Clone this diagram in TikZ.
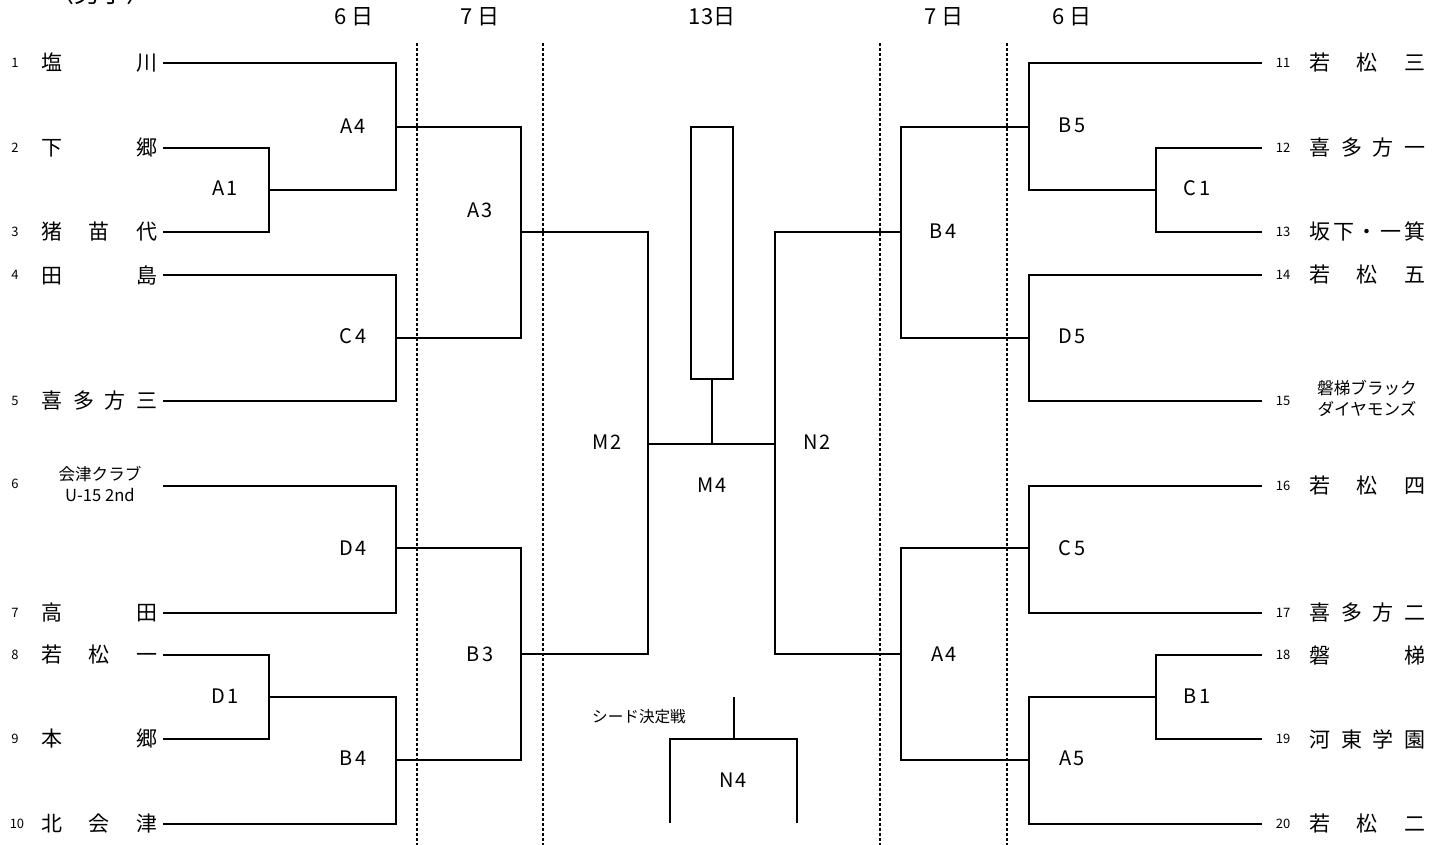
\documentclass[tikz,border=0pt]{standalone}
\usepackage{fontspec}
\setmainfont{Noto Sans CJK JP}
\newfontfamily\labfont[LetterSpace=12]{Noto Sans CJK JP}
\newcommand\tm[1]{\hbox to 58pt{#1}}
\tikzset{
 br/.style={line width=1pt},
 sep/.style={line width=0.6pt, dash pattern=on 1.5pt off 1pt},
 lab/.style={font=\labfont\fontsize{10}{11}\selectfont, inner sep=0},
 num/.style={font=\fontsize{6.5}{8}\selectfont, inner sep=0},
 team/.style={font=\fontsize{10.5}{12}\selectfont, inner sep=0},
 small/.style={font=\fontsize{8.3}{10.5}\selectfont, inner sep=0, align=center},
 seedlab/.style={font=\fontsize{7.8}{10}\selectfont, inner sep=0},
 day/.style={font=\fontsize{11}{12}\selectfont, inner sep=0},
 box/.style={draw, line width=1pt, inner sep=0, minimum width=21pt, minimum height=126.3pt},
}
\begin{document}
\begin{tikzpicture}[x=0.5pt,y=-0.5pt]
\useasboundingbox (0,0) rectangle (1445,845);
\fill[white] (0,0) rectangle (1445,845);
% title (cut off at the top edge, as in the reference)
\node[font=\fontsize{13}{14}\selectfont, inner sep=0] (title) at (100,-7) {〈男子〉};
% days
\node[day] (d1) at (354,17) {6 日};
\node[day] (d2) at (480,17) {7 日};
\node[day] (d3) at (712,17) {13日};
\node[day] (d4) at (944,17) {7 日};
\node[day] (d5) at (1072,17) {6 日};
% separators
\foreach \x/\n in {417/s1,543/s2,880/s3,1007/s4}{
  \coordinate (\n t) at (\x,43); \coordinate (\n b) at (\x,845);
  \draw[sep] (\n t) -- (\n b);
}
% left coordinates
\coordinate (t1) at (163,62.7);
\coordinate (t2) at (163,147.7);
\coordinate (t3) at (163,231.7);
\coordinate (t4) at (163,275);
\coordinate (t5) at (163,401);
\coordinate (t6) at (163,486);
\coordinate (t7) at (163,612.7);
\coordinate (t8) at (163,655);
\coordinate (t9) at (163,739);
\coordinate (t10) at (163,824);
\coordinate (A1j) at (269,190);
\coordinate (A4j) at (396,126.7);
\coordinate (C4j) at (396,338);
\coordinate (D4j) at (396,548.3);
\coordinate (D1j) at (269,697);
\coordinate (B4j) at (396,760);
\coordinate (A3j) at (521,232);
\coordinate (B3j) at (521,654);
\coordinate (M2j) at (648,444);
% right coordinates
\coordinate (r11) at (1262,62.7);
\coordinate (r12) at (1262,147.7);
\coordinate (r13) at (1262,231.7);
\coordinate (r14) at (1262,275);
\coordinate (r15) at (1262,401);
\coordinate (r16) at (1262,486);
\coordinate (r17) at (1262,612.7);
\coordinate (r18) at (1262,655);
\coordinate (r19) at (1262,739);
\coordinate (r20) at (1262,824);
\coordinate (C1j) at (1156,190);
\coordinate (B5j) at (1029,126.7);
\coordinate (D5j) at (1029,338);
\coordinate (C5j) at (1029,548.3);
\coordinate (B1j) at (1156,697);
\coordinate (A5j) at (1029,760);
\coordinate (B4Rj) at (901,232);
\coordinate (A4Rj) at (901,654);
\coordinate (N2j) at (775,444);
\coordinate (M4j) at (711.5,444);
% bracket lines left
\draw[br] (t2) -| (A1j) |- (t3);
\draw[br] (t1) -| (A4j) |- (A1j);
\draw[br] (t4) -| (C4j) |- (t5);
\draw[br] (t6) -| (D4j) |- (t7);
\draw[br] (t8) -| (D1j) |- (t9);
\draw[br] (D1j) -| (B4j) |- (t10);
\draw[br] (A4j) -| (A3j) |- (C4j);
\draw[br] (D4j) -| (B3j) |- (B4j);
\draw[br] (A3j) -| (M2j) |- (B3j);
% bracket lines right
\draw[br] (r12) -| (C1j) |- (r13);
\draw[br] (r11) -| (B5j) |- (C1j);
\draw[br] (r14) -| (D5j) |- (r15);
\draw[br] (r16) -| (C5j) |- (r17);
\draw[br] (r18) -| (B1j) |- (r19);
\draw[br] (B1j) -| (A5j) |- (r20);
\draw[br] (B5j) -| (B4Rj) |- (D5j);
\draw[br] (C5j) -| (A4Rj) |- (A5j);
\draw[br] (B4Rj) -| (N2j) |- (A4Rj);
% final
\draw[br] (M2j) -- (N2j);
\node[box] (win) at (711.5,253) {};
\draw[br] (win.south) -- (M4j);
% seed match
\coordinate (n4t) at (734,697);
\coordinate (n4j) at (734,739);
\coordinate (n4l) at (670,823);
\coordinate (n4r) at (797,823);
\draw[br] (n4t) -- (n4j);
\draw[br] (n4l) |- (n4j) -| (n4r);
\node[seedlab] (seed) at (639,717) {シード決定戦};
% match labels
\node[lab] (lA4) at (353,126) {A4};
\node[lab] (lA1) at (225,188) {A1};
\node[lab] (lC4) at (353,336) {C4};
\node[lab] (lD4) at (353,548) {D4};
\node[lab] (lD1) at (225,696) {D1};
\node[lab] (lB4) at (353,758) {B4};
\node[lab] (lA3) at (480,210) {A3};
\node[lab] (lB3) at (480,654) {B3};
\node[lab] (lM2) at (607,442) {M2};
\node[lab] (lM4) at (712,485) {M4};
\node[lab] (lN2) at (817,442) {N2};
\node[lab] (lB4R) at (943,231) {B4};
\node[lab] (lA4R) at (944,654) {A4};
\node[lab] (lB5) at (1072,125) {B5};
\node[lab] (lC1) at (1197,188) {C1};
\node[lab] (lD5) at (1072,336) {D5};
\node[lab] (lC5) at (1072,548) {C5};
\node[lab] (lB1) at (1197,696) {B1};
\node[lab] (lA5) at (1072,758) {A5};
\node[lab] (lN4) at (733,780) {N4};
% left numbers
\node[num] (k1) at (15,62.7) {1};
\node[num] (k2) at (15,147.7) {2};
\node[num] (k3) at (15,231.7) {3};
\node[num] (k4) at (15,275) {4};
\node[num] (k5) at (15,401) {5};
\node[num] (k6) at (15,484) {6};
\node[num] (k7) at (15,612.7) {7};
\node[num] (k8) at (15,655) {8};
\node[num] (k9) at (15,739) {9};
\node[num] (k10) at (17,824) {10};
% left names
\node[team] (n1) at (99.5,62.7) {\tm{塩\hfill 川}};
\node[team] (n2) at (99.5,147.7) {\tm{下\hfill 郷}};
\node[team] (n3) at (99.5,231.7) {\tm{猪\hfill 苗\hfill 代}};
\node[team] (n4) at (99.5,275) {\tm{田\hfill 島}};
\node[team] (n5) at (99.5,401) {\tm{喜\hfill 多\hfill 方\hfill 三}};
\node[small] (n6) at (100,483.5) {会津クラブ\\U-15 2nd};
\node[team] (n7) at (99.5,612.7) {\tm{高\hfill 田}};
\node[team] (n8) at (99.5,655) {\tm{若\hfill 松\hfill 一}};
\node[team] (n9) at (99.5,739) {\tm{本\hfill 郷}};
\node[team] (n10) at (99.5,824) {\tm{北\hfill 会\hfill 津}};
% right numbers
\node[num] (k11) at (1283,62.7) {11};
\node[num] (k12) at (1283,147.7) {12};
\node[num] (k13) at (1283,231.7) {13};
\node[num] (k14) at (1283,275) {14};
\node[num] (k15) at (1283,401) {15};
\node[num] (k16) at (1283,486) {16};
\node[num] (k17) at (1283,612.7) {17};
\node[num] (k18) at (1283,655) {18};
\node[num] (k19) at (1283,739) {19};
\node[num] (k20) at (1283,824) {20};
% right names
\node[team] (n11) at (1367.5,62.7) {\tm{若\hfill 松\hfill 三}};
\node[team] (n12) at (1367.5,147.7) {\tm{喜\hfill 多\hfill 方\hfill 一}};
\node[team] (n13) at (1367.5,231.7) {\tm{坂\hfill 下\hfill ・\hfill 一\hfill 箕}};
\node[team] (n14) at (1367.5,275) {\tm{若\hfill 松\hfill 五}};
\node[small] (n15) at (1367,398) {磐梯ブラック\\ダイヤモンズ};
\node[team] (n16) at (1367.5,486) {\tm{若\hfill 松\hfill 四}};
\node[team] (n17) at (1367.5,612.7) {\tm{喜\hfill 多\hfill 方\hfill 二}};
\node[team] (n18) at (1367.5,655) {\tm{磐\hfill 梯}};
\node[team] (n19) at (1367.5,739) {\tm{河\hfill 東\hfill 学\hfill 園}};
\node[team] (n20) at (1367.5,824) {\tm{若\hfill 松\hfill 二}};
\end{tikzpicture}
\end{document}
